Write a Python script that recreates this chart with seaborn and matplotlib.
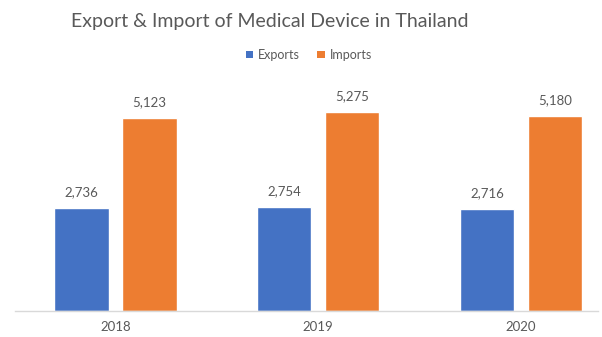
import matplotlib
matplotlib.use("Agg")
import matplotlib.pyplot as plt
import seaborn as sns
import pandas as pd
from matplotlib.patches import Patch

# Medical device trade values by year
years = ["2018", "2019", "2020"]
exports = [2736, 2754, 2716]
imports = [5123, 5275, 5180]
series = ["Exports", "Imports"]
colors = ["#4472C4", "#ED7D31"]

df = pd.DataFrame({
    "Year": years * 2,
    "Value": exports + imports,
    "Flow": [series[0]] * len(years) + [series[1]] * len(years),
})

sns.set_theme(style="white")
plt.rcParams["font.family"] = ["Lato", "DejaVu Sans"]
text_color = "#595959"

fig = plt.figure(figsize=(6.02, 3.37), dpi=100)
ax = fig.add_axes([15 / 602, 26 / 337, 583 / 602, 226 / 337])

sns.barplot(data=df, x="Year", y="Value", hue="Flow", palette=colors,
            width=0.67, gap=0.2, ax=ax, legend=False, saturation=1)

ax.set_ylim(0, 6000)
ax.set_xlim(-0.495, 2.38)
ax.set_xlabel("")
ax.set_ylabel("")
ax.set_yticks([])
for side in ["top", "right", "left"]:
    ax.spines[side].set_visible(False)
ax.spines["bottom"].set_color("#d9d9d9")
ax.spines["bottom"].set_linewidth(1)
ax.tick_params(axis="x", length=0, pad=7, labelsize=9.5, labelcolor=text_color)

for container in ax.containers:
    ax.bar_label(container, labels=[f"{v:,.0f}" for v in container.datavalues],
                 padding=7, fontsize=9.5, color=text_color)

fig.text(0.448, 0.935, "Export & Import of Medical Device in Thailand",
         ha="center", va="center", fontsize=14, color=text_color)

handles = [Patch(facecolor=c, edgecolor="none") for c in colors]
fig.legend(handles, series, loc="center", bbox_to_anchor=(0.513, 0.837),
           ncol=2, frameon=False, fontsize=9, labelcolor=text_color,
           handlelength=0.6, handleheight=0.6, handletextpad=0.4,
           columnspacing=1.4)

fig.savefig("out.png", dpi=100, facecolor="white")
